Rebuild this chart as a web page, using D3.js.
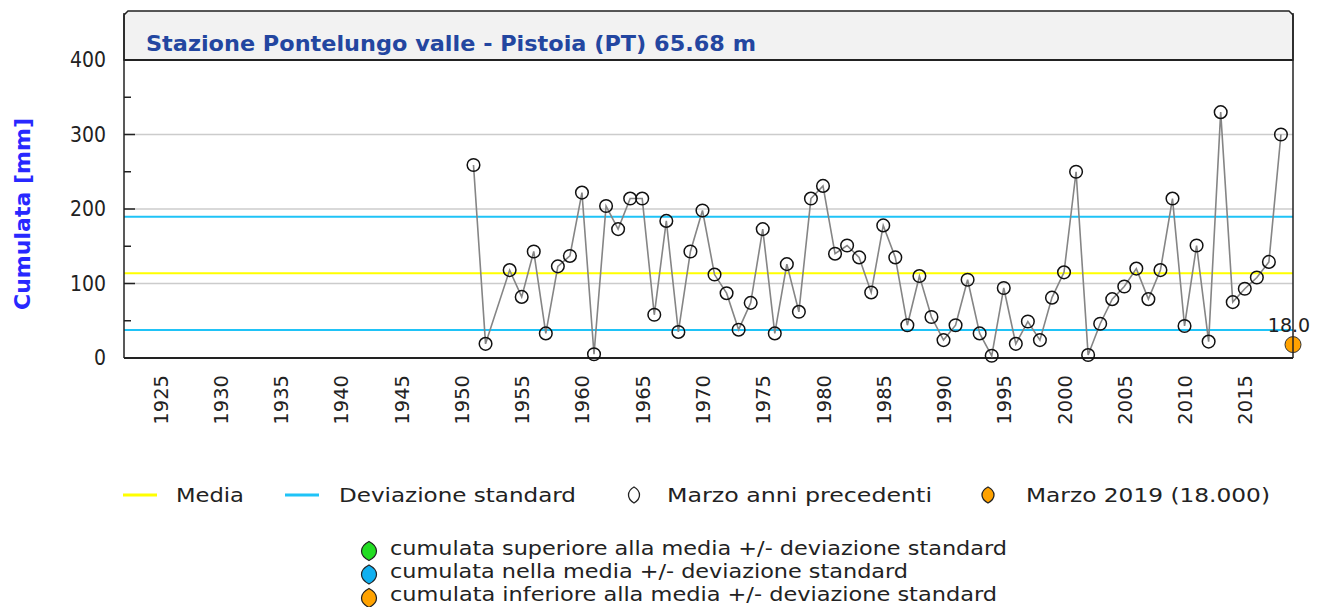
<!DOCTYPE html>
<html>
<head>
<meta charset="utf-8">
<script src="https://cdn.jsdelivr.net/npm/d3@7/dist/d3.min.js"></script>
<style>
  body { margin: 0; background: #fff; }
  svg { display: block; font-family: "DejaVu Sans", sans-serif; }
</style>
</head>
<body>
<div id="chart"></div>
<script>
// station data: march cumulated rainfall [mm]
var years = [1951, 1952, 1953, 1954, 1955, 1956, 1957, 1958, 1959, 1960,
             1961, 1962, 1963, 1964, 1965, 1966, 1967, 1968, 1969, 1970,
             1971, 1972, 1973, 1974, 1975, 1976, 1977, 1978, 1979, 1980,
             1981, 1982, 1983, 1984, 1985, 1986, 1987, 1988, 1989, 1990,
             1991, 1992, 1993, 1994, 1995, 1996, 1997, 1998, 1999, 2000,
             2001, 2002, 2003, 2004, 2005, 2006, 2007, 2008, 2009, 2010,
             2011, 2012, 2013, 2014, 2015, 2016, 2017, 2018];
var values = [259, 19, null, 118, 82, 143, 33, 123, 137, 222,
              5, 204, 173, 214, 214, 58, 184, 35, 143, 198,
              112, 87, 38, 74, 173, 33, 126, 62, 214, 231,
              140, 151, 135, 88, 178, 135, 44, 110, 55, 24,
              44, 105, 33, 3, 94, 19, 49, 24, 81, 115,
              250, 4, 46, 79, 96, 120, 79, 118, 214, 43,
              151, 22, 330, 75, 93, 108, 129, 300];

var currentYear = 2019;
var currentValue = 18.0;
var media = 113.6;
var devStd = 76;

var yTicks = [0, 100, 200, 300, 400];
var yMinor = [50, 150, 250, 350];
var xTicks = [1925, 1930, 1935, 1940, 1945, 1950, 1955, 1960, 1965, 1970,
              1975, 1980, 1985, 1990, 1995, 2000, 2005, 2010, 2015];

var title = "Stazione Pontelungo valle - Pistoia (PT) 65.68 m";
var legendTop = ["Media", "Deviazione standard", "Marzo anni precedenti", "Marzo 2019 (18.000)"];
var legendBottom = ["cumulata superiore alla media +/- deviazione standard",
                    "cumulata nella media +/- deviazione standard",
                    "cumulata inferiore alla media +/- deviazione standard"];

var W = 1322, H = 607;
var pL = 124, pR = 1293, pT = 60, pB = 358;

var svg = d3.select("#chart").append("svg")
  .attr("width", W).attr("height", H);

var x = d3.scaleLinear().domain([1922, 2019]).range([pL, pR]);
var y = d3.scaleLinear().domain([0, 400]).range([pB, pT]);

// title box
svg.append("path")
  .attr("d", "M" + pL + ",60 L" + pL + ",15 L" + (pL + 4) + ",11 L" + (pR - 4) + ",11 L" + pR + ",15 L" + pR + ",60 Z")
  .attr("fill", "#f2f2f2")
  .attr("stroke", "#222")
  .attr("stroke-width", 1.5);

svg.append("text")
  .attr("x", 146).attr("y", 51)
  .attr("font-size", 22)
  .attr("font-weight", "bold")
  .attr("fill", "#2346a0")
  .attr("textLength", 610)
  .attr("lengthAdjust", "spacingAndGlyphs")
  .text(title);

// gridlines
svg.selectAll(".grid")
  .data([100, 200, 300])
  .enter().append("line")
  .attr("x1", pL).attr("x2", pR)
  .attr("y1", function(d) { return y(d); })
  .attr("y2", function(d) { return y(d); })
  .attr("stroke", "#cccccc")
  .attr("stroke-width", 1.5);

// media and deviazione standard
svg.append("line")
  .attr("x1", pL).attr("x2", pR)
  .attr("y1", y(media)).attr("y2", y(media))
  .attr("stroke", "#ffff00").attr("stroke-width", 2);

svg.selectAll(".dev")
  .data([media + devStd, media - devStd])
  .enter().append("line")
  .attr("x1", pL).attr("x2", pR)
  .attr("y1", function(d) { return y(d); })
  .attr("y2", function(d) { return y(d); })
  .attr("stroke", "#1fc3f7").attr("stroke-width", 2);

// y axis
var yAxis = svg.append("g")
  .attr("transform", "translate(" + pL + ",0)")
  .call(d3.axisLeft(y).tickValues(yTicks).tickSize(0).tickPadding(18));
yAxis.select(".domain").remove();
yAxis.selectAll("text")
  .attr("font-size", 21)
  .attr("fill", "#222")
  .attr("font-family", "DejaVu Sans")
  .attr("textLength", function(d) { return String(d).length * 12; })
  .attr("lengthAdjust", "spacingAndGlyphs");

svg.selectAll(".ymaj")
  .data(yTicks)
  .enter().append("line")
  .attr("x1", pL).attr("x2", pL + 11)
  .attr("y1", function(d) { return y(d); })
  .attr("y2", function(d) { return y(d); })
  .attr("stroke", "#222").attr("stroke-width", 1.5);

svg.selectAll(".ymin")
  .data(yMinor)
  .enter().append("line")
  .attr("x1", pL).attr("x2", pL + 7)
  .attr("y1", function(d) { return y(d); })
  .attr("y2", function(d) { return y(d); })
  .attr("stroke", "#222").attr("stroke-width", 1.5);

svg.append("text")
  .attr("transform", "translate(30,214) rotate(-90)")
  .attr("text-anchor", "middle")
  .attr("font-size", 22)
  .attr("font-weight", "bold")
  .attr("fill", "#2828ff")
  .attr("textLength", 192)
  .attr("lengthAdjust", "spacingAndGlyphs")
  .text("Cumulata [mm]");

// x axis
var xAxis = svg.append("g")
  .attr("transform", "translate(0," + pB + ")")
  .call(d3.axisBottom(x).tickValues(xTicks).tickFormat(d3.format("d")).tickSize(0));
xAxis.select(".domain").remove();
xAxis.selectAll("text")
  .attr("font-size", 19.5)
  .attr("fill", "#222")
  .attr("font-family", "DejaVu Sans")
  .attr("text-anchor", "end")
  .attr("transform", "rotate(-90)")
  .attr("x", -17)
  .attr("y", 0)
  .attr("dy", "0.36em");

// frame
svg.append("line")
  .attr("x1", pL).attr("x2", pL).attr("y1", 13).attr("y2", pB)
  .attr("stroke", "#222").attr("stroke-width", 1.5);
svg.append("line")
  .attr("x1", pR).attr("x2", pR).attr("y1", 13).attr("y2", pB)
  .attr("stroke", "#222").attr("stroke-width", 1.5);
svg.append("line")
  .attr("x1", pL).attr("x2", pR).attr("y1", pB).attr("y2", pB)
  .attr("stroke", "#222").attr("stroke-width", 2);
svg.append("line")
  .attr("x1", pL).attr("x2", pR).attr("y1", pT).attr("y2", pT)
  .attr("stroke", "#222").attr("stroke-width", 2);

// series
var data = years.map(function(yr, i) { return {yr: yr, v: values[i]}; });

var line = d3.line()
  .x(function(d) { return x(d.yr); })
  .y(function(d) { return y(d.v); });

// 1953 is missing: the line goes straight from 1952 to 1954
svg.append("path")
  .datum(data.filter(function(d) { return d.v != null; }))
  .attr("d", line)
  .attr("fill", "none")
  .attr("stroke", "#858585")
  .attr("stroke-width", 1.6);

svg.selectAll(".pt")
  .data(data.filter(function(d) { return d.v != null; }))
  .enter().append("circle")
  .attr("cx", function(d) { return x(d.yr); })
  .attr("cy", function(d) { return y(d.v); })
  .attr("r", 6.3)
  .attr("fill", "none")
  .attr("stroke", "#111")
  .attr("stroke-width", 1.5);

// current year
svg.append("circle")
  .attr("cx", x(currentYear)).attr("cy", y(currentValue))
  .attr("r", 8)
  .attr("fill", "#ffa200")
  .attr("stroke", "#333").attr("stroke-width", 1);
svg.append("line")
  .attr("x1", x(currentYear)).attr("x2", x(currentYear))
  .attr("y1", y(currentValue) - 8).attr("y2", y(currentValue) + 8)
  .attr("stroke", "#222").attr("stroke-width", 1.5);
svg.append("text")
  .attr("x", x(currentYear) - 4).attr("y", y(currentValue) - 13)
  .attr("text-anchor", "middle")
  .attr("font-size", 19)
  .attr("fill", "#222")
  .text(d3.format(".1f")(currentValue));

// legend markers: lozenge with rounded sides
function lozenge(cx, cy, w, h) {
  var a = w / 2, b = h / 2;
  return "M" + cx + "," + (cy - b) +
    " Q" + (cx + a) + "," + (cy - b * 0.6) + " " + (cx + a) + "," + cy +
    " Q" + (cx + a) + "," + (cy + b * 0.6) + " " + cx + "," + (cy + b) +
    " Q" + (cx - a) + "," + (cy + b * 0.6) + " " + (cx - a) + "," + cy +
    " Q" + (cx - a) + "," + (cy - b * 0.6) + " " + cx + "," + (cy - b) + " Z";
}

var ly = 495;
svg.append("line").attr("x1", 123).attr("x2", 157).attr("y1", ly).attr("y2", ly)
  .attr("stroke", "#ffff00").attr("stroke-width", 3);
svg.append("line").attr("x1", 285).attr("x2", 319).attr("y1", ly).attr("y2", ly)
  .attr("stroke", "#1fc3f7").attr("stroke-width", 3);
svg.append("path").attr("d", lozenge(634, ly, 11, 16))
  .attr("fill", "#fff").attr("stroke", "#222").attr("stroke-width", 1.3);
svg.append("path").attr("d", lozenge(988, ly, 12, 16))
  .attr("fill", "#ffa200").attr("stroke", "#222").attr("stroke-width", 1.3);

var topPos = [[176, 68], [339, 237], [667, 265], [1026, 244]];
svg.selectAll(".lgTop")
  .data(legendTop)
  .enter().append("text")
  .attr("x", function(d, i) { return topPos[i][0]; })
  .attr("y", 502)
  .attr("font-size", 20)
  .attr("fill", "#222")
  .attr("textLength", function(d, i) { return topPos[i][1]; })
  .attr("lengthAdjust", "spacingAndGlyphs")
  .text(function(d) { return d; });

// legend, bottom rows
var markColors = ["#22dd22", "#11b0f0", "#ffa200"];
var botLen = [617, 518, 607];
svg.selectAll(".lgMark")
  .data(markColors)
  .enter().append("path")
  .attr("d", function(d, i) { return lozenge(369, 551 + i * 23.5, 15, 19); })
  .attr("fill", function(d) { return d; })
  .attr("stroke", "#222").attr("stroke-width", 1.2);

svg.selectAll(".lgBot")
  .data(legendBottom)
  .enter().append("text")
  .attr("x", 390)
  .attr("y", function(d, i) { return 555 + i * 23; })
  .attr("font-size", 19)
  .attr("fill", "#222")
  .attr("textLength", function(d, i) { return botLen[i]; })
  .attr("lengthAdjust", "spacingAndGlyphs")
  .text(function(d) { return d; });
</script>
</body>
</html>
